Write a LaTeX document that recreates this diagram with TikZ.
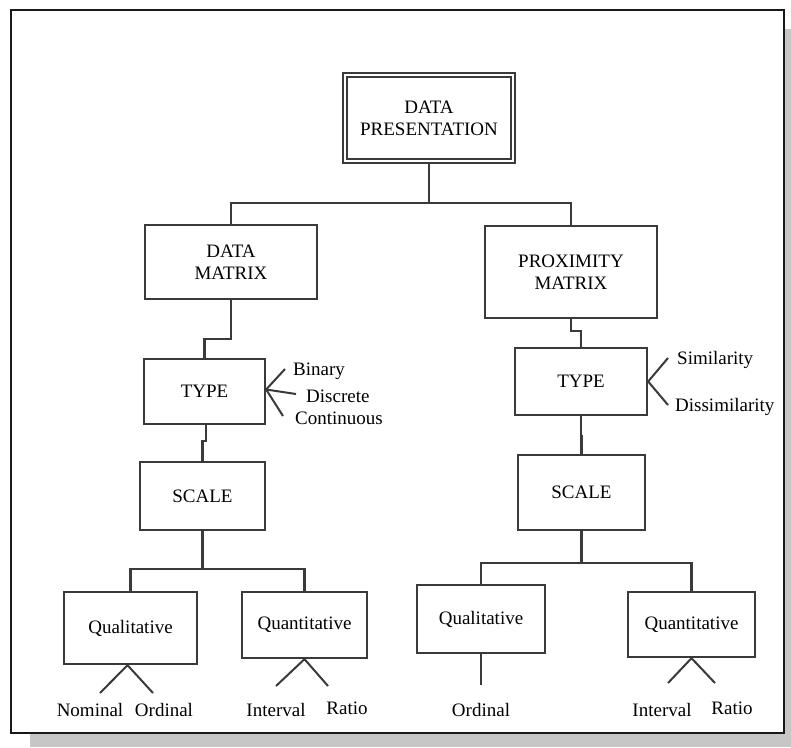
\documentclass[tikz,border=0pt]{standalone}
\usepackage{fontspec}
\setmainfont{Liberation Serif}
\begin{document}
\begin{tikzpicture}[x=1pt,y=-1pt,
  box/.style={draw=boxline, line width=2.3pt, fill=white, align=center,
    inner sep=0pt, font=\fontsize{19}{22}\selectfont},
  lbl/.style={inner sep=0pt, font=\fontsize{19}{22}\selectfont},
  link/.style={draw=boxline, line width=2.2pt},
  leaf/.style={draw=boxline, line width=2pt},
]
\definecolor{boxline}{HTML}{3A3A3A}
\definecolor{shadowgray}{HTML}{C6C6C6}
\useasboundingbox (0,0) rectangle (791,747);

% page frame with drop shadow
\fill[shadowgray] (30,29) rectangle (791,747);
\draw[line width=2.4pt, draw=black!90, fill=white] (11,10) rectangle (784,733);

% root
\node[box, double, double distance=2.2pt, line width=1.7pt,
      minimum width=168pt, minimum height=86pt] (dp) at (429,118) {DATA\\PRESENTATION};

% level 1
\node[box, minimum width=172pt, minimum height=74pt] (dm) at (231,262) {DATA\\MATRIX};
\node[box, minimum width=172pt, minimum height=92pt] (pm) at (571,272) {PROXIMITY\\MATRIX};

% left branch
\node[box, minimum width=121pt, minimum height=65pt] (tl) at (204.5,391.5) {TYPE};
\node[box, minimum width=125pt, minimum height=68pt] (sl) at (202.5,496) {SCALE};
\node[box, minimum width=133pt, minimum height=72pt] (ql) at (130.5,628) {Qualitative};
\node[box, minimum width=125pt, minimum height=66pt] (nl) at (304.5,625) {Quantitative};

% right branch
\node[box, minimum width=132pt, minimum height=67pt] (tr) at (581,381.5) {TYPE};
\node[box, minimum width=127pt, minimum height=75pt] (sr) at (581.5,492.5) {SCALE};
\node[box, minimum width=128pt, minimum height=68pt] (qr) at (481,619) {Qualitative};
\node[box, minimum width=127pt, minimum height=65pt] (nr) at (691.5,624.5) {Quantitative};

% tree connectors
\draw[link] (dp.south) -- (dp.south |- 0,203);
\draw[link] (dm.north) |- (pm.north |- 0,203) -- (pm.north);
\draw[link] (dm.south) -- ++(0,39) -| (tl.north);
\draw[link] ([xshift=1.5pt]tl.south) -- ++(0,16) -| (sl.north);
\draw[link] (sl.south) -- ++(0,38) coordinate (busl);
\draw[link] (ql.north) |- (busl) -| (nl.north);
\draw[link] (pm.south) -- ++(0,12) -| (tr.north);
\draw[link] (tr.south) -- ++(0,20) -| (sr.north);
\draw[link] (sr.south) -- ++(0,32) coordinate (busr);
\draw[link] (qr.north) |- (busr) -| (nr.north);

% variable types, left
\node[lbl, anchor=west] (bin) at (293,371) {Binary};
\node[lbl, anchor=west] (dis) at (306,396) {Discrete};
\node[lbl, anchor=west] (con) at (295,418) {Continuous};
\coordinate (fl1) at (285,369);
\coordinate (fl2) at (296,394);
\coordinate (fl3) at (283,416);
\draw[leaf] (fl1) -- ([yshift=2pt]tl.east) -- (fl3);
\draw[leaf] ([yshift=2pt]tl.east) -- (fl2);

% proximity types, right
\node[lbl, anchor=west] (sim) at (677,360) {Similarity};
\node[lbl, anchor=west] (dsim) at (675,407) {Dissimilarity};
\coordinate (fr1) at (668,358);
\coordinate (fr2) at (668,405);
\draw[leaf] (fr1) -- (tr.east) -- (fr2);

% scale leaves, left
\node[lbl] (nom) at (90,710) {Nominal};
\node[lbl] (ordl) at (164,710) {Ordinal};
\node[lbl] (intl) at (276,710) {Interval};
\node[lbl] (ratl) at (347,708) {Ratio};
\coordinate (q1) at (100,693);
\coordinate (q2) at (153,693);
\coordinate (n1) at (276,686);
\coordinate (n2) at (328,686);
\draw[leaf] (q1) -- ([xshift=-3pt]ql.south) -- (q2);
\draw[leaf] (n1) -- (nl.south) -- (n2);

% scale leaves, right
\node[lbl] (ordr) at (481,710) {Ordinal};
\node[lbl] (intr) at (662,710) {Interval};
\node[lbl] (ratr) at (732,708) {Ratio};
\coordinate (r0) at (481,685);
\coordinate (r1) at (668,683);
\coordinate (r2) at (715,683);
\draw[leaf] (qr.south) -- (r0);
\draw[leaf] (r1) -- (nr.south) -- (r2);
\end{tikzpicture}
\end{document}
